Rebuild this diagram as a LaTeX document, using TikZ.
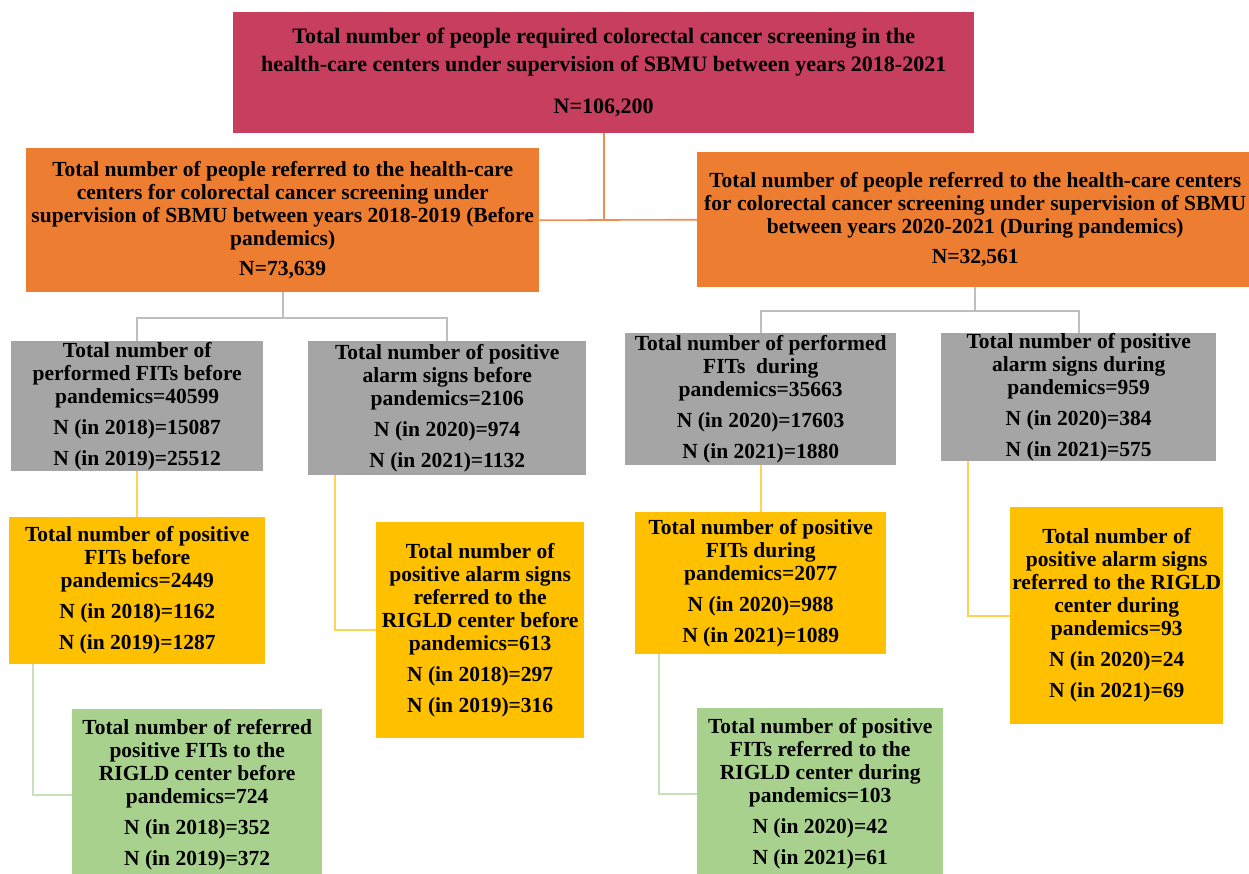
\documentclass[tikz,border=0pt]{standalone}
\usepackage{fontspec}
\setmainfont{Liberation Serif}
\definecolor{crim}{RGB}{200,62,94}
\definecolor{orng}{RGB}{237,125,49}
\definecolor{gry}{RGB}{165,165,165}
\definecolor{ylw}{RGB}{255,192,0}
\definecolor{grn}{RGB}{169,209,142}
\definecolor{orline}{RGB}{240,140,80}
\definecolor{gyline}{RGB}{190,190,190}
\definecolor{ylline}{RGB}{255,210,90}
\definecolor{gnline}{RGB}{200,225,185}
\tikzset{
  box/.style={anchor=north west, inner sep=0pt, align=center, draw=none,
    font=\bfseries\fontsize{21.5}{23}\selectfont, text=black},
  conn/.style={line width=1.6pt},
}
\begin{document}
\begin{tikzpicture}[x=1pt,y=-1pt]
\useasboundingbox (0,0) rectangle (1249,873);
\clip (0,0) rectangle (1249,873);
% boxes
\node[box, fill=crim, minimum width=741pt, minimum height=121pt,
  font=\bfseries\fontsize{22}{28}\selectfont] (top) at (233,12)
  {Total number of people required colorectal cancer screening in the\\
   health-care centers under supervision of SBMU between years 2018-2021\\[14pt]
   N=106,200};
\node[box, fill=orng, minimum width=513pt, minimum height=144pt] (ol) at (26,148)
  {Total number of people referred to the health-care\\
   centers for colorectal cancer screening under\\
   supervision of SBMU between years 2018-2019 (Before\\
   pandemics)\\[7pt]
   N=73,639};
\node[box, fill=orng, minimum width=556pt, minimum height=135pt] (or) at (697,152)
  {Total number of people referred to the health-care centers\\
   for colorectal cancer screening under supervision of SBMU\\
   between years 2020-2021 (During pandemics)\\[7pt]
   N=32,561};
\node[box, fill=gry, minimum width=252pt, minimum height=130pt] (g1) at (11,341)
  {Total number of\\performed FITs before\\pandemics=40599\\[8pt]
   N (in 2018)=15087\\[8pt]N (in 2019)=25512};
\node[box, fill=gry, minimum width=278pt, minimum height=134pt] (g2) at (308,341)
  {Total number of positive\\alarm signs before\\pandemics=2106\\[8pt]
   N (in 2020)=974\\[8pt]N (in 2021)=1132};
\node[box, fill=gry, minimum width=271pt, minimum height=132pt] (g3) at (625,333)
  {Total number of performed\\FITs\ \ during\\pandemics=35663\\[8pt]
   N (in 2020)=17603\\[8pt]N (in 2021)=1880};
\node[box, fill=gry, minimum width=275pt, minimum height=128pt] (g4) at (941,333)
  {Total number of positive\\alarm signs during\\pandemics=959\\[8pt]
   N (in 2020)=384\\[8pt]N (in 2021)=575};
\node[box, fill=ylw, minimum width=256pt, minimum height=147pt] (y1) at (9,517)
  {Total number of positive\\FITs before\\pandemics=2449\\[8pt]
   N (in 2018)=1162\\[8pt]N (in 2019)=1287};
\node[box, fill=ylw, minimum width=208pt, minimum height=216pt] (y2) at (376,522)
  {Total number of\\positive alarm signs\\referred to the\\RIGLD center before\\pandemics=613\\[8pt]
   N (in 2018)=297\\[8pt]N (in 2019)=316};
\node[box, fill=ylw, minimum width=251pt, minimum height=142pt] (y3) at (635,512)
  {Total number of positive\\FITs during\\pandemics=2077\\[8pt]
   N (in 2020)=988\\[8pt]N (in 2021)=1089};
\node[box, fill=ylw, minimum width=213pt, minimum height=217pt] (y4) at (1010,507)
  {Total number of\\positive alarm signs\\referred to the RIGLD\\center during\\pandemics=93\\[8pt]
   N (in 2020)=24\\[8pt]N (in 2021)=69};
\node[box, fill=grn, minimum width=250pt, minimum height=172pt] (gr1) at (72,709)
  {Total number of referred\\positive FITs to the\\RIGLD center before\\pandemics=724\\[8pt]
   N (in 2018)=352\\[8pt]N (in 2019)=372};
\node[box, fill=grn, minimum width=246pt, minimum height=172pt] (gr2) at (697,708)
  {Total number of positive\\FITs referred to the\\RIGLD center during\\pandemics=103\\[8pt]
   N (in 2020)=42\\[8pt]N (in 2021)=61};
% junction coordinates
\coordinate (jl) at (283,318);
\coordinate (jr) at (973,311);
\coordinate (k2) at (335,0);
\coordinate (k3) at (33,0);
\coordinate (k4) at (968,0);
\coordinate (k5) at (659,0);
% connectors
\draw[conn, orline] (ol.east) -- (or.west);
\draw[conn, orline] (top.south) -- (top.south |- ol.east);
\draw[conn, gyline] (ol.south) -- (ol.south |- jl);
\draw[conn, gyline] (g1.north) -- (g1.north |- jl) -| (g2.north);
\draw[conn, gyline] (or.south) -- (or.south |- jr);
\draw[conn, gyline] (g3.north) -- (g3.north |- jr) -| (g4.north);
\draw[conn, ylline] (g1.south) -- (y1.north);
\draw[conn, ylline] (k2 |- g2.south) |- (y2.west);
\draw[conn, ylline] (g3.south) -- (y3.north);
\draw[conn, ylline] (k4 |- g4.south) |- (y4.west);
\draw[conn, gnline] (k3 |- y1.south) |- (gr1.west);
\draw[conn, gnline] (k5 |- y3.south) |- (gr2.west);
\end{tikzpicture}
\end{document}
